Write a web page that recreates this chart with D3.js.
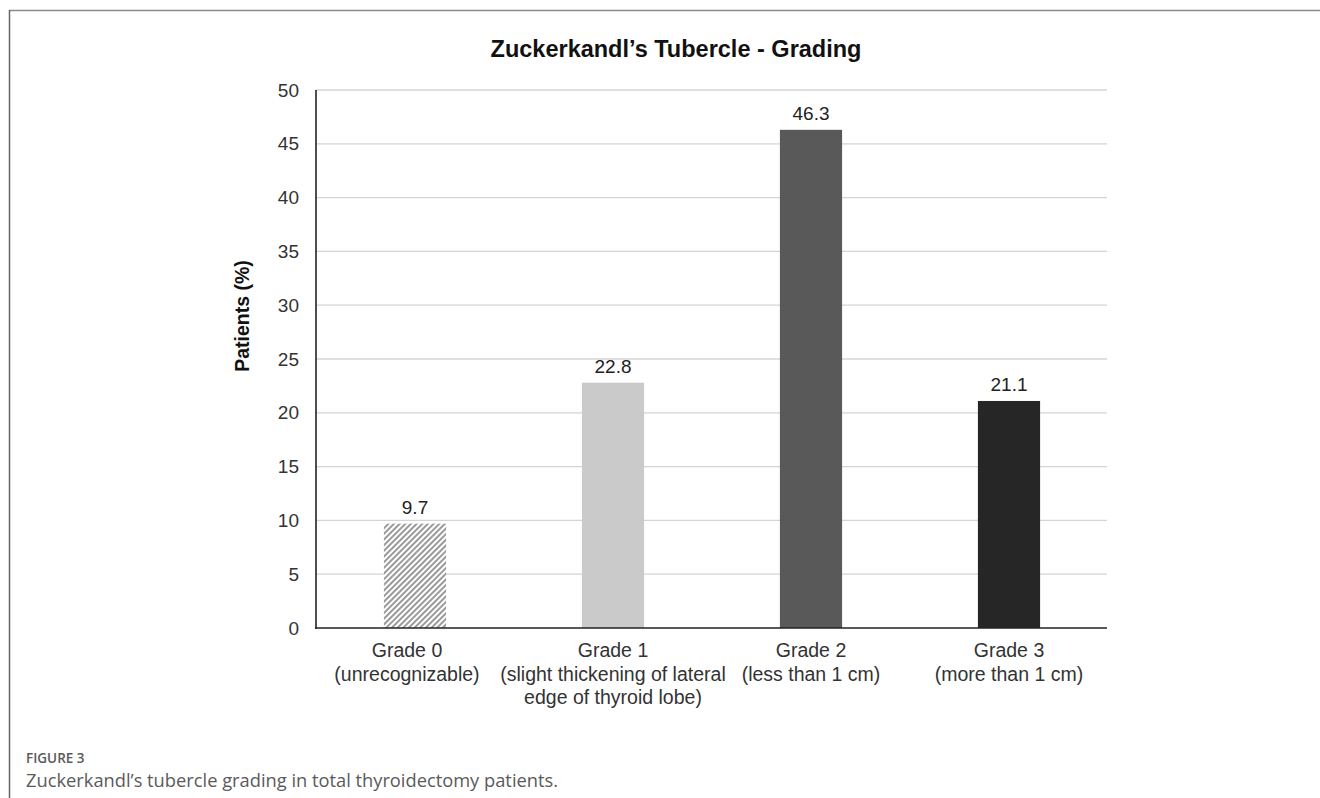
<!DOCTYPE html>
<html>
<head>
<meta charset="utf-8">
<script src="https://cdn.jsdelivr.net/npm/d3@7"></script>
<style>
  body { margin: 0; background: #fff; }
  svg { display: block; }
</style>
</head>
<body>
<svg id="chart" width="1320" height="798"></svg>
<script>
const grades = ["Grade 0", "Grade 1", "Grade 2", "Grade 3"];
const gradeNotes = [
  ["(unrecognizable)"],
  ["(slight thickening of lateral", "edge of thyroid lobe)"],
  ["(less than 1 cm)"],
  ["(more than 1 cm)"]
];
const percents = [9.7, 22.8, 46.3, 21.1];
const yTicks = [0, 5, 10, 15, 20, 25, 30, 35, 40, 45, 50];
const barFills = ["url(#hatch)", "#cacaca", "#595959", "#262626"];

const svg = d3.select("#chart");
const font = "'Liberation Sans', Arial, sans-serif";
const capFont = "'Open Sans', 'Noto Sans', sans-serif";

// hatch pattern for the first bar
const defs = svg.append("defs");
const pat = defs.append("pattern")
  .attr("id", "hatch")
  .attr("patternUnits", "userSpaceOnUse")
  .attr("width", 4).attr("height", 4)
  .attr("patternTransform", "rotate(45)");
pat.append("rect").attr("width", 4).attr("height", 4).attr("fill", "#fff");
pat.append("rect").attr("width", 2).attr("height", 4).attr("fill", "#9a9a9a");

// figure frame (top and left rules)
svg.append("line").attr("x1", 9).attr("x2", 1320).attr("y1", 10.5).attr("y2", 10.5)
  .attr("stroke", "#8a8a8a").attr("stroke-width", 1.5);
svg.append("line").attr("x1", 9.5).attr("x2", 9.5).attr("y1", 10).attr("y2", 798)
  .attr("stroke", "#666").attr("stroke-width", 1.5);

const x = d3.scaleBand().domain(grades).range([316, 1108])
  .paddingInner(0.686).paddingOuter(0.343);
const y = d3.scaleLinear().domain([0, 50]).range([628, 90]);

// gridlines
svg.append("g")
  .selectAll("line")
  .data(yTicks.filter((t) => t > 0))
  .join("line")
  .attr("x1", 316).attr("x2", 1107)
  .attr("y1", (d) => y(d)).attr("y2", (d) => y(d))
  .attr("stroke", "#d4d4d4").attr("stroke-width", 1.3);

// y tick labels
svg.append("g")
  .selectAll("text")
  .data(yTicks)
  .join("text")
  .attr("x", 299)
  .attr("y", (d) => y(d))
  .attr("dy", "0.35em")
  .attr("text-anchor", "end")
  .attr("font-family", font)
  .attr("font-size", 19)
  .attr("fill", "#333")
  .text((d) => d);

// bars
svg.append("g")
  .selectAll("rect")
  .data(percents)
  .join("rect")
  .attr("x", (d, i) => x(grades[i]))
  .attr("width", x.bandwidth())
  .attr("y", (d) => y(d))
  .attr("height", (d) => y(0) - y(d))
  .attr("fill", (d, i) => barFills[i]);

// value labels
svg.append("g")
  .selectAll("text")
  .data(percents)
  .join("text")
  .attr("x", (d, i) => x(grades[i]) + x.bandwidth() / 2)
  .attr("y", (d) => y(d) - 10)
  .attr("text-anchor", "middle")
  .attr("font-family", font)
  .attr("font-size", 19)
  .attr("fill", "#222")
  .text((d) => d.toFixed(1));

// axes lines
svg.append("line").attr("x1", 316).attr("x2", 316).attr("y1", y(50)).attr("y2", y(0) + 1)
  .attr("stroke", "#222").attr("stroke-width", 1.6);
svg.append("line").attr("x1", 315).attr("x2", 1107).attr("y1", y(0)).attr("y2", y(0))
  .attr("stroke", "#222").attr("stroke-width", 1.6);

// x category labels
const xl = svg.append("g")
  .selectAll("text")
  .data(grades)
  .join("text")
  .attr("x", (d) => x(d) + x.bandwidth() / 2)
  .attr("y", 657)
  .attr("text-anchor", "middle")
  .attr("font-family", font)
  .attr("font-size", 19.5)
  .attr("fill", "#333");
xl.each(function (d, i) {
  const t = d3.select(this);
  const cx = x(d) + x.bandwidth() / 2 - (i === 0 ? 8 : 0);
  [d, ...gradeNotes[i]].forEach((line, k) => {
    t.append("tspan").attr("x", cx).attr("dy", k === 0 ? 0 : 23.5).text(line);
  });
});

// title
svg.append("text")
  .attr("x", 676).attr("y", 57)
  .attr("text-anchor", "middle")
  .attr("font-family", font)
  .attr("font-weight", "bold")
  .attr("font-size", 23.5)
  .attr("fill", "#111")
  .text("Zuckerkandl\u2019s Tubercle - Grading");

// y axis title
svg.append("text")
  .attr("transform", `translate(249,${y(29)}) rotate(-90)`)
  .attr("text-anchor", "middle")
  .attr("font-family", font)
  .attr("font-weight", "bold")
  .attr("font-size", 19.5)
  .attr("fill", "#111")
  .text("Patients (%)");

// caption
svg.append("text")
  .attr("x", 26).attr("y", 763)
  .attr("font-family", capFont)
  .attr("font-weight", 600)
  .attr("font-size", 13.5)
  .attr("fill", "#5a5a5a")
  .text("FIGURE 3");
svg.append("text")
  .attr("x", 26).attr("y", 787)
  .attr("font-family", capFont)
  .attr("font-size", 18.3)
  .attr("fill", "#5a5a5a")
  .text("Zuckerkandl\u2019s tubercle grading in total thyroidectomy patients.");
</script>
</body>
</html>
